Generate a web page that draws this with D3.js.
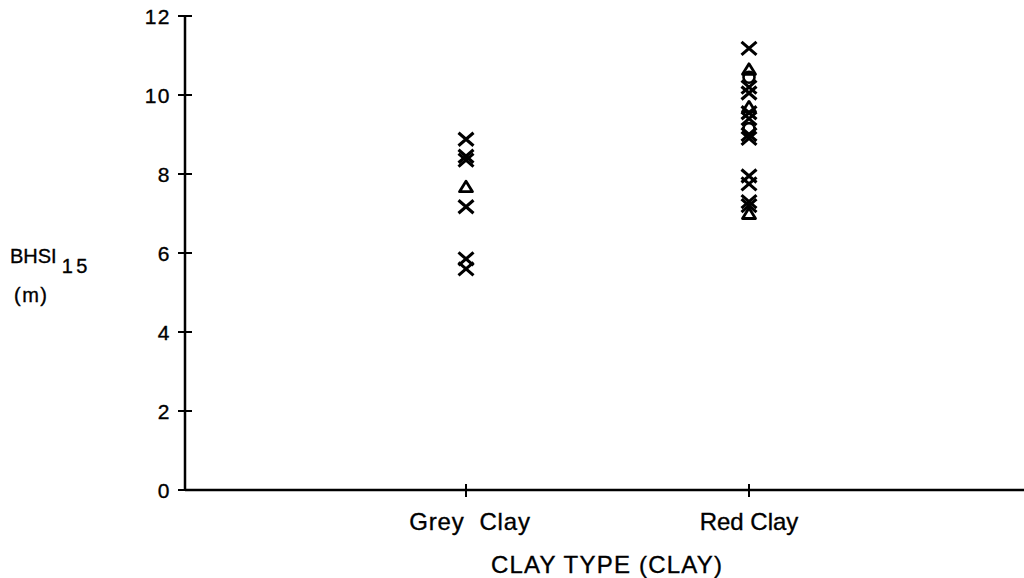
<!DOCTYPE html>
<html>
<head>
<meta charset="utf-8">
<script src="https://cdn.jsdelivr.net/npm/d3@7"></script>
<style>
  body { margin: 0; background: #fff; }
  svg { display: block; }
  text { font-family: "Liberation Sans", Arial, sans-serif; fill: #000; stroke: #000; stroke-width: 0.35; }
</style>
</head>
<body>
<div id="chart"></div>
<script>
// categories on the x axis
const categories = ['Grey Clay', 'Red Clay'];

// BHSI15 readings (m) and the marker used for each
const greyValues = [8.88, 8.45, 8.35, 7.68, 7.17, 5.85, 5.6];
const greyShapes = ['x', 'x', 'x', 'triangle', 'x', 'x', 'x'];

const redValues = [11.18, 10.65, 10.45, 10.2, 10.05, 9.7, 9.55, 9.4, 9.15, 9.0, 8.9, 7.95, 7.75, 7.3, 7.2, 7.0];
const redShapes = ['x', 'triangle', 'circle', 'x', 'x', 'triangle', 'x', 'x', 'circle', 'x', 'x', 'x', 'x', 'x', 'x', 'triangle'];

const yTicks = [0, 2, 4, 6, 8, 10, 12];

const width = 1024, height = 578;
const margin = {top: 16, right: 0, bottom: 88, left: 185};

const svg = d3.select('#chart').append('svg')
    .attr('width', width)
    .attr('height', height);

const x = d3.scalePoint().domain(categories).range([466, 749]);
const y = d3.scaleLinear().domain([0, 12]).range([height - margin.bottom, margin.top]);

// points
const points = [];
greyValues.forEach((v, i) => points.push({cat: 'Grey Clay', value: v, shape: greyShapes[i]}));
redValues.forEach((v, i) => points.push({cat: 'Red Clay', value: v, shape: redShapes[i]}));

// axes
svg.append('line')
    .attr('x1', margin.left).attr('x2', width)
    .attr('y1', y(0)).attr('y2', y(0))
    .attr('stroke', '#000').attr('stroke-width', 2.5);

svg.append('line')
    .attr('x1', margin.left).attr('x2', margin.left)
    .attr('y1', y(0)).attr('y2', y(12))
    .attr('stroke', '#000').attr('stroke-width', 2.5);

const yt = svg.append('g').selectAll('g')
    .data(yTicks).enter().append('g')
    .attr('transform', d => 'translate(0,' + y(d) + ')');

yt.append('line')
    .attr('x1', margin.left - 7).attr('x2', margin.left + 7)
    .attr('stroke', '#000').attr('stroke-width', 2);

yt.append('text')
    .attr('x', margin.left - 14)
    .attr('dy', '0.36em')
    .attr('text-anchor', 'end')
    .attr('font-size', 21)
    .attr('letter-spacing', 1.5)
    .text(d => d);

const xt = svg.append('g').selectAll('g')
    .data(categories).enter().append('g')
    .attr('transform', d => 'translate(' + x(d) + ',' + y(0) + ')');

xt.append('line')
    .attr('y1', -6).attr('y2', 7)
    .attr('stroke', '#000').attr('stroke-width', 2);

xt.append('text')
    .attr('y', 40)
    .attr('x', d => d === 'Grey Clay' ? 4 : 0)
    .attr('text-anchor', 'middle')
    .attr('font-size', 24)
    .attr('xml:space', 'preserve')
    .attr('letter-spacing', d => d === 'Grey Clay' ? 0.8 : 0)
    .text(d => d === 'Grey Clay' ? 'Grey  Clay' : d);

svg.append('text')
    .attr('x', 607).attr('y', 573)
    .attr('text-anchor', 'middle')
    .attr('font-size', 24)
    .attr('letter-spacing', 1.2)
    .text('CLAY TYPE (CLAY)');

// y axis title
const yl = svg.append('text').attr('x', 10).attr('y', 263).attr('font-size', 20);
yl.append('tspan').text('BHSI');
yl.append('tspan').attr('dx', 5).attr('dy', 10).attr('letter-spacing', -1).text('1 5');
svg.append('text').attr('x', 14).attr('y', 302).attr('font-size', 20)
    .attr('letter-spacing', 1.5).text('(m)');

// markers
const mk = svg.append('g').selectAll('g')
    .data(points).enter().append('g')
    .attr('transform', d => 'translate(' + x(d.cat) + ',' + y(d.value) + ')');

mk.filter(d => d.shape === 'x').append('path')
    .attr('d', 'M-7.5,-6.5L7.5,6.5M-7.5,6.5L7.5,-6.5')
    .attr('stroke', '#000').attr('stroke-width', 3.1)
    .attr('fill', 'none');

mk.filter(d => d.shape === 'triangle').append('path')
    .attr('d', 'M0,-5.5L6.5,5L-6.5,5Z')
    .attr('stroke', '#000').attr('stroke-width', 2.8)
    .attr('stroke-linejoin', 'round')
    .attr('fill', 'none');

mk.filter(d => d.shape === 'circle').append('circle')
    .attr('r', 5.5)
    .attr('stroke', '#000').attr('stroke-width', 2.6)
    .attr('fill', 'none');
</script>
</body>
</html>
